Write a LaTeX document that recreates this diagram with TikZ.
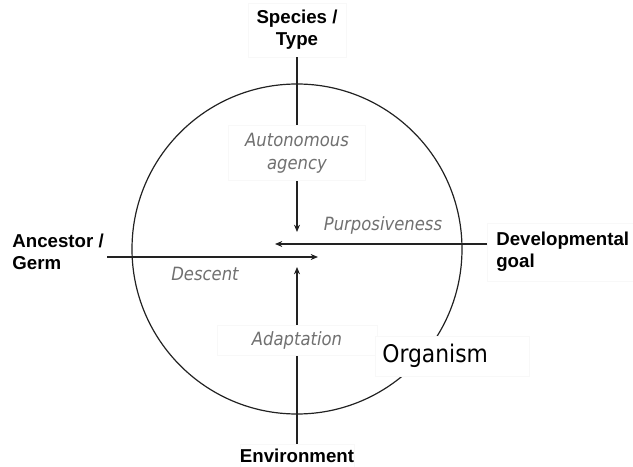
\documentclass[tikz,border=0pt]{standalone}
\usepackage{fontspec}
\setmainfont{Liberation Sans}
\newfontfamily\itfont[FakeStretch=0.9]{DejaVu Sans}
\usetikzlibrary{arrows.meta}
\definecolor{txtgray}{HTML}{707070}
\definecolor{linec}{HTML}{222222}
\definecolor{faint}{HTML}{F8F8F8}
\tikzset{
  boldlbl/.style={font=\bfseries\fontsize{14}{16.5}\selectfont, text=black, align=center},
  itlbl/.style={font=\itfont\itshape\fontsize{13.7}{17}\selectfont, text=txtgray, align=center},
  whitebox/.style={fill=white, draw=faint, line width=0.5pt},
  arr/.style={draw=linec, line width=0.9pt, -{Stealth[length=5.5pt,width=4.5pt]}},
}
\begin{document}
\begin{tikzpicture}[x=0.75pt,y=-0.75pt]
\useasboundingbox (0,0) rectangle (633,467);
% circle
\node[draw=linec, line width=0.9pt, circle, minimum size=330*0.75pt, inner sep=0pt] (circ) at (297,249) {};
% outer labels
\node[boldlbl, whitebox, minimum width=98*0.75pt, minimum height=54*0.75pt, inner sep=0pt] (species) at (297,30) {Species /\\Type};
\node[boldlbl, anchor=east, align=left, inner xsep=3*0.75pt] (anc) at (107,252) {Ancestor /\\Germ};
\node[boldlbl, whitebox, anchor=west, align=left, inner xsep=9*0.75pt, minimum height=58*0.75pt] (dev) at (487,252) {Developmental\\goal};
\node[boldlbl, whitebox, minimum width=85*0.75pt, minimum height=24*0.75pt, inner sep=0pt] (env) at (297,456) {Environment};
% tips
\coordinate (ttip) at (297,232);
\coordinate (btip) at (297,267);
\coordinate (ptip) at (275,244);
\coordinate (dtip) at (318,257);
% arrows
\draw[arr] (species.south) -- (ttip);
\draw[arr] (env.north) -- (btip);
\draw[arr] (ptip -| dev.west) -- (ptip);
\draw[arr] (dtip -| anc.east) -- (dtip);
% inner labels covering lines
\node[itlbl, whitebox, minimum width=137*0.75pt, minimum height=55*0.75pt, inner sep=0pt] (agency) at (297,153) {Autonomous\\agency};
\node[itlbl, whitebox, minimum width=160*0.75pt, minimum height=30*0.75pt, inner sep=0pt] (adapt) at (297,340) {Adaptation};
\node[itlbl] (purp) at (383,225) {Purposiveness};
\node[itlbl] (desc) at (205,274) {Descent};
\node[whitebox, anchor=west, text width=140*0.75pt, align=left, inner xsep=7*0.75pt, minimum height=40*0.75pt, font=\itfont\fontsize{18.2}{20}\selectfont] (org) at (375,356) {Organism};
\end{tikzpicture}
\end{document}
